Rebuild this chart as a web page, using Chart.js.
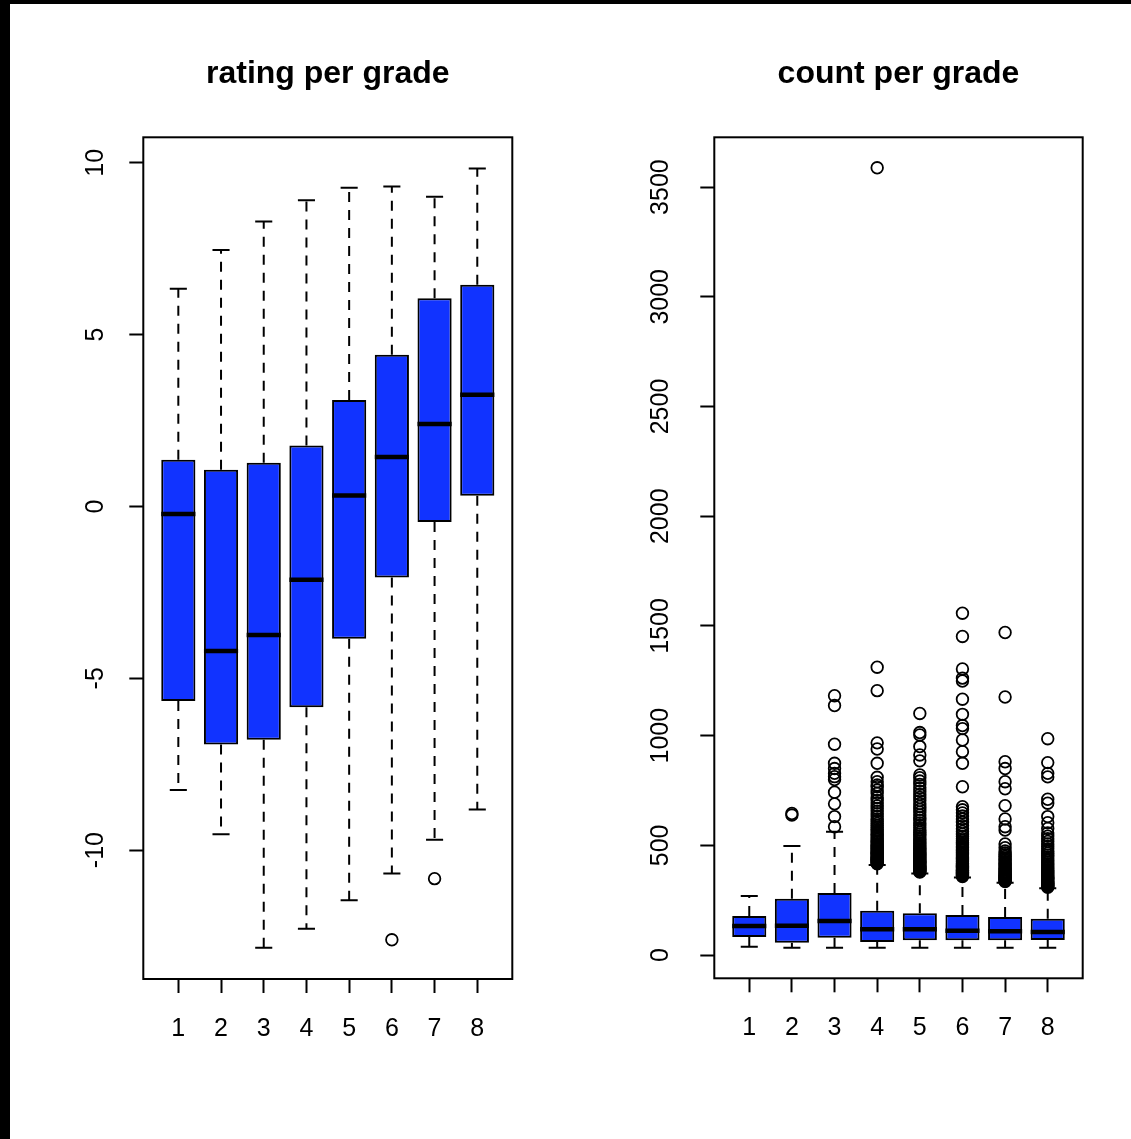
<!DOCTYPE html>
<html>
<head>
<meta charset="utf-8">
<script src="https://cdn.jsdelivr.net/npm/chart.js@4/dist/chart.umd.min.js"></script>
<style>
  html, body { margin: 0; padding: 0; background: #fff; }
  body { width: 1131px; height: 1139px; position: relative; overflow: hidden; }
  .edge-left { position: absolute; left: 0; top: 0; width: 10px; height: 1139px; background: #000; z-index: 2; }
  .edge-top { position: absolute; left: 0; top: 0; width: 1131px; height: 4px; background: #000; z-index: 2; }
  #ratingChart { position: absolute; left: 0; top: 0; }
  #countChart { position: absolute; left: 566px; top: 0; }
</style>
</head>
<body>
<div class="edge-left"></div>
<div class="edge-top"></div>
<canvas id="ratingChart" width="566" height="1139"></canvas>
<canvas id="countChart" width="565" height="1139"></canvas>
<script>
// Grades shown on both x axes
const grades = [1, 2, 3, 4, 5, 6, 7, 8];

// Rating per grade: five-number summaries and outliers
const ratingLow    = [-8.25, -9.54, -12.84, -12.29, -11.46, -10.68, -9.70, -8.82];
const ratingQ1     = [-5.66, -6.93, -6.79, -5.84, -3.85, -2.07, -0.45, 0.31];
const ratingMedian = [-0.22, -4.21, -3.74, -2.13, 0.32, 1.44, 2.40, 3.25];
const ratingQ3     = [1.36, 1.07, 1.27, 1.77, 3.10, 4.41, 6.06, 6.45];
const ratingHigh   = [6.33, 7.46, 8.29, 8.91, 9.27, 9.31, 9.01, 9.83];
const ratingOutliers = [[], [], [], [], [], [-12.61], [-10.83], []];
const ratingTicks  = [-10, -5, 0, 5, 10];

// Count per grade: five-number summaries and outliers
const countLow    = [38, 33, 33, 33, 33, 33, 33, 33];
const countQ1     = [82, 56, 79, 60, 67, 67, 67, 69];
const countMedian = [132, 134, 155, 117, 117, 111, 109, 105];
const countQ3     = [178, 257, 283, 202, 190, 182, 173, 165];
const countHigh   = [269, 497, 562, 410, 372, 353, 330, 304];
const countOutliers = [
  [],
  [638, 645],
  [585, 631, 689, 742, 800, 813, 828, 850, 874, 961, 1137, 1182],
  [416, 419, 422, 425, 428, 431, 434, 437, 440, 443, 447, 451, 455, 459, 463, 467, 471, 476, 481, 486,
   491, 496, 502, 508, 514, 520, 527, 534, 541, 548, 556, 564, 572, 581, 590, 600, 610, 620, 632, 644,
   656, 668, 680, 693, 705, 718, 737, 752, 767, 775, 790, 810, 874, 939, 967, 1205, 1312, 3588],
  [378, 381, 384, 387, 390, 393, 396, 399, 402, 406, 410, 414, 418, 422, 426, 430, 435, 440, 445, 450,
   455, 460, 466, 472, 478, 484, 490, 497, 504, 511, 518, 526, 534, 542, 551, 560, 570, 580, 591, 602,
   614, 626, 638, 651, 664, 677, 690, 704, 718, 732, 747, 762, 778, 793, 808, 821, 885, 912, 950, 1003,
   1014, 1101],
  [358, 361, 364, 367, 370, 373, 376, 379, 382, 385, 388, 392, 396, 400, 404, 408, 412, 416, 420, 425,
   430, 435, 440, 445, 451, 457, 463, 469, 476, 483, 490, 497, 505, 513, 521, 530, 540, 551, 563, 576,
   590, 605, 620, 634, 648, 662, 676, 767, 874, 927, 980, 1032, 1046, 1097, 1166, 1249, 1262, 1304, 1452, 1558],
  [335, 338, 341, 344, 347, 350, 353, 356, 359, 362, 366, 370, 374, 378, 382, 387, 392, 397, 402, 408,
   414, 420, 427, 434, 441, 449, 457, 465, 474, 489, 506, 570, 585, 620, 681, 758, 790, 850, 881, 1176, 1470],
  [309, 312, 315, 318, 321, 324, 327, 330, 333, 337, 341, 345, 349, 353, 357, 362, 367, 372, 377, 383,
   389, 395, 401, 408, 415, 422, 430, 438, 446, 455, 464, 474, 484, 495, 506, 518, 530, 542, 556, 577,
   603, 631, 692, 710, 812, 828, 877, 986]
];
const countTicks = [0, 500, 1000, 1500, 2000, 2500, 3000, 3500];

const FONT = "'Liberation Sans', Arial, Helvetica, sans-serif";
const BOX_BLUE = '#1133ff';

// Whiskers, caps, medians and the plot frame, positioned through the chart scales
const boxWhiskers = {
  id: 'boxWhiskers',
  beforeDatasetsDraw(chart, args, opts) {
    const { ctx } = chart;
    const xs = chart.scales.x, ys = chart.scales.y;
    const bars = chart.getDatasetMeta(0).data;
    ctx.save();
    ctx.strokeStyle = '#000';
    ctx.lineWidth = 2;
    grades.forEach((g, i) => {
      const x = xs.getPixelForValue(g);
      const half = bars[i].width / 4;
      const yLo = ys.getPixelForValue(opts.low[i]);
      const yHi = ys.getPixelForValue(opts.high[i]);
      const yQ1 = ys.getPixelForValue(opts.q1[i]);
      const yQ3 = ys.getPixelForValue(opts.q3[i]);
      ctx.setLineDash([10, 8]);
      ctx.beginPath();
      ctx.moveTo(x, yQ3); ctx.lineTo(x, yHi);
      ctx.moveTo(x, yQ1); ctx.lineTo(x, yLo);
      ctx.stroke();
      ctx.setLineDash([]);
      ctx.beginPath();
      ctx.moveTo(x - half, yHi); ctx.lineTo(x + half, yHi);
      ctx.moveTo(x - half, yLo); ctx.lineTo(x + half, yLo);
      ctx.stroke();
    });
    ctx.restore();
  },
  afterDatasetDraw(chart, args, opts) {
    if (args.index !== 0) return;
    const { ctx } = chart;
    const ys = chart.scales.y;
    const bars = chart.getDatasetMeta(0).data;
    ctx.save();
    ctx.strokeStyle = '#000';
    ctx.lineWidth = 4.5;
    bars.forEach((bar, i) => {
      const y = ys.getPixelForValue(opts.median[i]);
      ctx.beginPath();
      ctx.moveTo(bar.x - bar.width / 2, y);
      ctx.lineTo(bar.x + bar.width / 2, y);
      ctx.stroke();
    });
    ctx.restore();
  },
  afterDraw(chart) {
    const { ctx, chartArea: a } = chart;
    ctx.save();
    ctx.strokeStyle = '#000';
    ctx.lineWidth = 2;
    ctx.strokeRect(a.left, a.top, a.right - a.left, a.bottom - a.top);
    ctx.restore();
  }
};

function makeBoxChart(canvasId, cfg) {
  const boxes = grades.map((g, i) => ({ x: g, y: [cfg.q1[i], cfg.q3[i]] }));
  const points = grades.flatMap((g, i) => cfg.outliers[i].map(v => ({ x: g, y: v })));
  const tickGrid = { offset: false, drawOnChartArea: false, drawTicks: true, tickLength: 14, tickWidth: 2, tickColor: '#000' };
  return new Chart(document.getElementById(canvasId), {
    type: 'bar',
    data: {
      datasets: [
        {
          type: 'bar',
          data: boxes,
          backgroundColor: BOX_BLUE,
          borderColor: '#000',
          borderWidth: 2,
          borderSkipped: false,
          categoryPercentage: 1,
          barPercentage: 0.8
        },
        {
          type: 'scatter',
          data: points,
          pointStyle: 'circle',
          pointRadius: 5.8,
          pointBorderWidth: 1.8,
          pointBorderColor: '#000',
          pointBackgroundColor: 'rgba(0,0,0,0)',
          showLine: false
        }
      ]
    },
    options: {
      responsive: false,
      animation: false,
      events: [],
      layout: { padding: cfg.padding },
      plugins: {
        legend: { display: false },
        tooltip: { enabled: false },
        title: {
          display: true,
          text: cfg.title,
          fullSize: false,
          color: '#000',
          font: { family: FONT, size: 32, weight: 'bold', lineHeight: 1.2 },
          padding: { top: 55, bottom: 43.9 }
        },
        boxWhiskers: { low: cfg.low, q1: cfg.q1, median: cfg.median, q3: cfg.q3, high: cfg.high }
      },
      scales: {
        x: {
          type: 'linear',
          offset: false,
          min: 0.18,
          max: 8.82,
          afterBuildTicks: s => { s.ticks = grades.map(v => ({ value: v })); },
          afterFit: s => { s.height = 80; },
          grid: tickGrid,
          border: { display: false },
          ticks: {
            color: '#000', font: { family: FONT, size: 25 }, padding: 21,
            maxRotation: 0, autoSkip: false, callback: v => String(v)
          }
        },
        y: {
          type: 'linear',
          min: cfg.yMin,
          max: cfg.yMax,
          afterBuildTicks: s => { s.ticks = cfg.ticks.map(v => ({ value: v })); },
          afterFit: s => { s.width = 80; },
          grid: tickGrid,
          border: { display: false },
          ticks: {
            color: '#000', font: { family: FONT, size: 25 }, padding: cfg.labelPad,
            minRotation: 90, maxRotation: 90, crossAlign: 'center', autoSkip: false,
            callback: v => String(v)
          }
        }
      }
    },
    plugins: [boxWhiskers]
  });
}

makeBoxChart('ratingChart', {
  title: 'rating per grade',
  low: ratingLow, q1: ratingQ1, median: ratingMedian, q3: ratingQ3, high: ratingHigh,
  outliers: ratingOutliers, ticks: ratingTicks,
  yMin: -13.75, yMax: 10.74,
  labelPad: 15,
  padding: { left: 63.3, right: 53.7, top: 0, bottom: 80 }
});

makeBoxChart('countChart', {
  title: 'count per grade',
  low: countLow, q1: countQ1, median: countMedian, q3: countQ3, high: countHigh,
  outliers: countOutliers, ticks: countTicks,
  yMin: -106, yMax: 3727,
  labelPad: 11,
  padding: { left: 68.3, right: 48.3, top: 0, bottom: 80.7 }
});
</script>
</body>
</html>
